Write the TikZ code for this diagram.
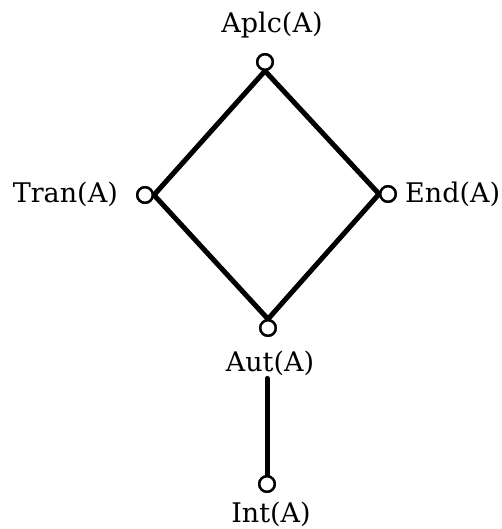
\documentclass[tikz,border=0pt]{standalone}
\usepackage{fontspec}
\setmainfont{DejaVu Serif}
\begin{document}
\begin{tikzpicture}[x=1pt,y=-1pt,
  vert/.style={circle,draw=black,line width=2.4pt,minimum size=15.5pt,inner sep=0pt,fill=white},
  edge/.style={line width=5pt,black,line cap=round},
  lbl/.style={font=\fontsize{27}{30}\selectfont,inner sep=0pt}]
\useasboundingbox[fill=white] (0,0) rectangle (501,529);
% vertices
\node[vert] (aplc) at (265,62) {};
\node[vert] (tran) at (145,195) {};
\node[vert] (end) at (388,194) {};
\node[vert] (aut) at (268,328) {};
\node[vert] (int) at (267,484) {};
% labels
\node[lbl,anchor=base] (laplc) at (272,33) {Aplc(A)};
\node[lbl,anchor=base east] (ltran) at (118,203) {Tran(A)};
\node[lbl,anchor=base west] (lend) at (405,203) {End(A)};
\node[lbl,anchor=base] (laut) at (270,371) {Aut(A)};
\node[lbl,anchor=base] (lint) at (271,522) {Int(A)};
% edges
\draw[edge] (aplc.south) -- (tran.east);
\draw[edge] (aplc.south) -- (end.west);
\draw[edge] (tran.east) -- (aut.north);
\draw[edge] (end.west) -- (aut.north);
\coordinate (top) at ([yshift=-3pt]laut.south -| int.north);
\draw[edge] (top) -- (int.north);
% redraw circles on top
\node[vert] at (aplc) {};
\node[vert] at (tran) {};
\node[vert] at (end) {};
\node[vert] at (aut) {};
\node[vert] at (int) {};
\end{tikzpicture}
\end{document}
